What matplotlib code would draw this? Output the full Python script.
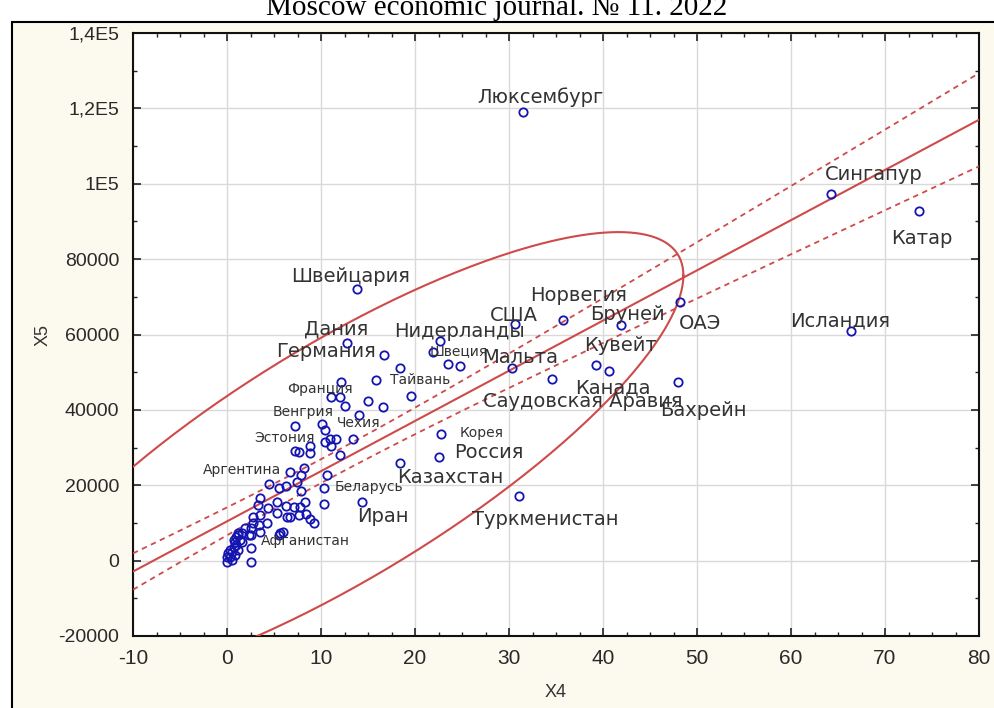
import numpy as np
import matplotlib
matplotlib.use("Agg")
import matplotlib.pyplot as plt
from matplotlib.patches import Rectangle
from matplotlib.ticker import MultipleLocator

plt.rcParams["axes.unicode_minus"] = False

# --- data ---
x4 = [31.5, 64.3, 73.6, 66.4, 13.8, 12.8, 16.7, 22.7, 21.9, 23.5, 24.8, 18.4, 15.9, 19.6,
      30.6, 35.7, 41.9, 48.2, 30.3, 34.6, 39.3, 40.6, 48.0,
      12.1, 11.1, 12.0, 12.5, 15.0, 16.6, 14.0, 13.4, 7.2, 10.1, 10.4, 10.4, 11.1, 11.6, 11.0,
      12.0, 8.8, 8.8, 7.2, 7.7, 22.8, 22.6, 18.4, 31.1, 14.4, 10.3, 10.3, 10.6,
      8.2, 6.7, 7.9, 4.5, 5.5, 6.3, 7.4, 7.9, 3.5, 3.3, 5.3, 6.3, 7.1, 7.8, 8.3, 4.4, 5.3,
      6.4, 7.7, 8.4, 8.8, 9.3, 2.8, 3.5, 4.3, 3.4, 2.6, 1.9, 1.6, 2.3, 5.6, 6.0, 2.6, 2.6,
      0.0, 0.3, 0.5, 0.7, 0.85, 1.0, 1.2, 0.7, 0.1, 1.0, 1.2, 0.85, 1.4, 0.5,
      6.7, 2.8, 1.2, 0.3, 0.0, 1.6, 2.6, 3.5, 5.5]
x5 = [119100, 97300, 92700, 60900, 72000, 57800, 54500, 58200, 55400, 52100, 51700, 51000, 47900, 43700,
      62700, 63800, 62500, 68700, 51000, 48200, 51900, 50400, 47300,
      47300, 43300, 43300, 41000, 42300, 40700, 38600, 32400, 35800, 36200, 34600, 31400, 30500, 32300, 32400,
      28000, 30500, 28500, 29100, 28700, 33500, 27600, 26000, 17200, 15600, 19300, 15000, 22700,
      24500, 23600, 22700, 20300, 19200, 19900, 20800, 18500, 16500, 14700, 15600, 14600, 14300, 14300, 15600, 13900, 12700,
      11500, 12100, 12500, 11000, 10100, 11600, 12100, 9900, 9400, 8600, 8600, 7200, 6800, 7200, 7700, 3300, -300,
      -300, 1000, 2400, 3700, 5000, 6300, 7200, 5500, 1900, 4100, 2800, 1500, 5500, 200,
      11600, 9900, 6800, 2800, 900, 5000, 6800, 7700, 6800]

countries = ["Люксембург", "Сингапур", "Катар", "Исландия", "Швейцария", "Дания", "Германия",
             "Нидерланды", "США", "Норвегия", "Бруней", "ОАЭ", "Мальта", "Швеция", "Кувейт",
             "Канада", "Саудовская Аравия", "Бахрейн", "Тайвань", "Франция", "Венгрия", "Чехия",
             "Эстония", "Аргентина", "Корея", "Россия", "Казахстан", "Беларусь", "Иран",
             "Туркменистан", "Афганистан"]
label_x = [33.3, 68.8, 73.9, 65.2, 13.1, 11.6, 10.5, 24.7, 30.5, 37.4, 42.6, 50.3, 31.2, 24.7, 41.9,
           41.1, 37.8, 50.7, 20.5, 9.9, 8.1, 14.0, 6.1, 1.6, 27.1, 27.8, 23.8, 15.1, 16.6, 33.9, 8.3]
label_y = [122970, 102550, 85560, 63580, 75490, 61440, 55600, 60910, 65150, 70450, 65410, 63020, 54000,
           55600, 57190, 45780, 42330, 39950, 47900, 45520, 39420, 36500, 32520, 24030, 33850, 28810,
           22180, 19520, 11830, 11030, 5200]
small_labels = {"Тайвань", "Франция", "Венгрия", "Чехия", "Эстония", "Аргентина", "Корея",
                "Беларусь", "Афганистан", "Швеция"}

# regression line and its confidence band
reg_intercept, reg_slope = 10420, 1332
band_x0, band_a, band_b = 11.0, 10.0e6, 30000.0

# 95% ellipse: centre, half-ranges and correlation
ell_mx, ell_my = 12.12, 26490
ell_kx, ell_ky = 36.43, 60680
ell_r = 0.8103

RED = "#cf4a4a"
BLUE = "#1414b0"

fig = plt.figure(figsize=(9.94, 7.08), dpi=100)
fig.patches.append(Rectangle((12 / 994, -0.02), 1.0, (708 - 22) / 708 + 0.02, transform=fig.transFigure,
                             facecolor="#fcf9ef", edgecolor="black", lw=1.5, zorder=-1))
fig.text(0.5, 1 - 15 / 708, "Moscow economic journal. № 11. 2022", ha="center", va="baseline",
         fontsize=21, family=["Liberation Serif", "DejaVu Serif"])

ax = fig.add_axes([133 / 994, 1 - 636 / 708, (979 - 133) / 994, (636 - 33) / 708])
ax.set_facecolor("white")

xs = np.linspace(-10, 80, 200)
yl = reg_intercept + reg_slope * xs
w = np.sqrt(band_a + band_b * (xs - band_x0) ** 2)
ax.plot(xs, yl, color=RED, lw=1.5, zorder=3)
ax.plot(xs, yl + w, color=RED, lw=1.3, ls=(0, (3, 2.5)), zorder=3)
ax.plot(xs, yl - w, color=RED, lw=1.3, ls=(0, (3, 2.5)), zorder=3)

t = np.linspace(0, 2 * np.pi, 400)
ax.plot(ell_mx + ell_kx * np.cos(t),
        ell_my + ell_ky * (ell_r * np.cos(t) + np.sqrt(1 - ell_r ** 2) * np.sin(t)),
        color=RED, lw=1.5, zorder=3)

ax.plot(x4, x5, ls="none", marker="o", ms=6, mfc="none", mec=BLUE, mew=1.3, zorder=4)

for name, lx, ly in zip(countries, label_x, label_y):
    fs = 10 if name in small_labels else 14
    ax.text(lx, ly, name, ha="center", va="center", fontsize=fs, color="#333333",
            family="DejaVu Sans", zorder=5)

ax.set_xlim(-10, 80)
ax.set_ylim(-20000, 140000)
ax.set_xticks(np.arange(-10, 81, 10))
ax.set_yticks(np.arange(-20000, 140001, 20000))
ax.set_yticklabels(["-20000", "0", "20000", "40000", "60000", "80000", "1E5", "1,2E5", "1,4E5"])
ax.xaxis.set_minor_locator(MultipleLocator(2.5))
ax.yaxis.set_minor_locator(MultipleLocator(10000))
ax.grid(True, color="#d9d9d9", lw=1, zorder=0)
ax.set_axisbelow(True)
ax.tick_params(which="both", direction="in", top=True, right=True, color="#222222")
ax.tick_params(which="major", length=6, width=1.2)
ax.tick_params(which="minor", length=3, width=1)
for lab in ax.get_yticklabels():
    lab.set_family("Liberation Sans"); lab.set_fontsize(14); lab.set_color("#2a2a2a")
for lab in ax.get_xticklabels():
    lab.set_family("Liberation Sans"); lab.set_fontsize(15); lab.set_color("#2a2a2a")
ax.tick_params(axis="y", pad=10)
ax.tick_params(axis="x", pad=9)
for s in ax.spines.values():
    s.set_linewidth(1.5)
    s.set_color("#111111")
ax.set_xlabel("X4", fontsize=13, family="Liberation Sans", color="#333333", labelpad=12)
ax.set_ylabel("X5", fontsize=13, family="Liberation Sans", color="#333333", labelpad=5)

fig.savefig("out.png", dpi=100)
